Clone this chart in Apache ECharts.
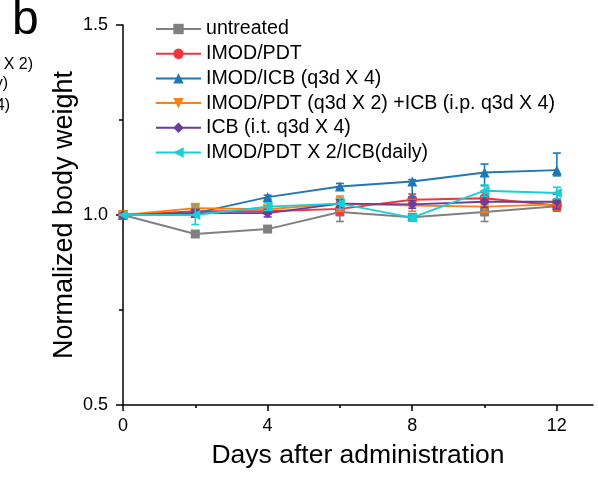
<!DOCTYPE html>
<html><head><meta charset="utf-8">
<script src="https://cdn.jsdelivr.net/npm/echarts@6/dist/echarts.min.js"></script>
<style>html,body{margin:0;padding:0;background:#fff}#c{width:598px;height:477px}</style>
</head><body><div id="c"></div>
<script>
const days = [0, 2, 4, 6, 8, 10, 12];
const xTicks = [0, 4, 8, 12];
const xMinorTicks = [2, 6, 10];
const seriesNames = ['untreated', 'IMOD/PDT', 'IMOD/ICB (q3d X 4)', 'IMOD/PDT (q3d X 2) +ICB (i.p. q3d X 4)', 'ICB (i.t. q3d X 4)', 'IMOD/PDT X 2/ICB(daily)'];
const untreated = [1.000, 0.950, 0.963, 1.008, 0.994, 1.008, 1.023];
const untreatedErr = [0, 0.006, 0.006, 0.025, 0.008, 0.025, 0.010];
const imodPdt = [1.000, 1.010, 1.010, 1.016, 1.040, 1.044, 1.025];
const imodPdtErr = [0, 0.012, 0.008, 0.015, 0.015, 0.015, 0.015];
const imodIcb = [1.000, 1.005, 1.047, 1.075, 1.088, 1.112, 1.118];
const imodIcbErrUp = [0, 0.005, 0.005, 0.008, 0.005, 0.022, 0.045];
const imodIcbErrDown = [0, 0.005, 0.005, 0.008, 0.040, 0.035, 0.015];
const combo = [1.000, 1.018, 1.015, 1.030, 1.025, 1.022, 1.028];
const comboErr = [0, 0.012, 0.010, 0.020, 0.015, 0.015, 0.015];
const icb = [1.000, 1.005, 1.005, 1.030, 1.028, 1.035, 1.035];
const icbErr = [0, 0.010, 0.010, 0.010, 0.010, 0.015, 0.020];
const daily = [1.000, 1.000, 1.022, 1.030, 0.993, 1.064, 1.058];
const dailyErr = [0, 0.025, 0.010, 0.015, 0.008, 0.015, 0.015];

const colors = ['#808080', '#f5333b', '#1f77b4', '#ff7f0e', '#6a3d9a', '#17cfd4'];
const symbols = ['rect', 'circle', 'triangle', 'path://M0,0 L10,0 L5,10 Z', 'diamond', 'path://M0,5 L10,0 L10,10 Z'];
const vals = [untreated, imodPdt, imodIcb, combo, icb, daily];
const errUp = [untreatedErr, imodPdtErr, imodIcbErrUp, comboErr, icbErr, dailyErr];
const errDown = [untreatedErr, imodPdtErr, imodIcbErrDown, comboErr, icbErr, dailyErr];

const FONT = 'Liberation Sans, Arial, sans-serif';
const series = [];
vals.forEach((v, k) => {
  series.push({
    type: 'custom', name: seriesNames[k] + ' err', xAxisIndex: 0, yAxisIndex: 0, z: 2 + k * 2, silent: true,
    data: v.map((y, i) => [days[i], y, errUp[k][i], errDown[k][i]]),
    renderItem: (params, api) => {
      const x = api.value(0), y = api.value(1);
      const hi = api.coord([x, y + api.value(2)]);
      const lo = api.coord([x, y - api.value(3)]);
      const hw = 4;
      const st = { stroke: colors[k], lineWidth: 1.6 };
      return { type: 'group', children: [
        { type: 'line', shape: { x1: hi[0], y1: hi[1], x2: lo[0], y2: lo[1] }, style: st },
        { type: 'line', shape: { x1: hi[0] - hw, y1: hi[1], x2: hi[0] + hw, y2: hi[1] }, style: st },
        { type: 'line', shape: { x1: lo[0] - hw, y1: lo[1], x2: lo[0] + hw, y2: lo[1] }, style: st }
      ]};
    }
  });
  series.push({
    type: 'line', name: seriesNames[k], xAxisIndex: 0, yAxisIndex: 0, z: 3 + k * 2,
    data: v.map((y, i) => [days[i], y]),
    symbol: symbols[k], symbolSize: k === 0 ? 9 : 10, showAllSymbol: true,
    itemStyle: { color: colors[k] },
    lineStyle: { color: colors[k], width: 1.9 },
    emphasis: { disabled: true }, animation: false
  });
});

const chart = echarts.init(document.getElementById('c'));
chart.setOption({
  animation: false,
  backgroundColor: '#fff',
  grid: { left: 123, right: 5, top: 25, bottom: 72 },
  legend: {
    data: seriesNames, orient: 'vertical', left: 150, top: 14,
    itemWidth: 45, itemHeight: 13, itemGap: 4.7,
    textStyle: { fontFamily: FONT, fontSize: 19.6, color: '#000', lineHeight: 19.6 }
  },
  xAxis: [{
    type: 'value', min: 0, max: 13, interval: 4, position: 'bottom',
    name: 'Days after administration', nameLocation: 'middle', nameGap: 37, nameMoveOverlap: false,
    nameTextStyle: { fontFamily: FONT, fontSize: 26.5, color: '#000' },
    axisLine: { show: true, lineStyle: { color: '#000', width: 1.5 } },
    axisTick: { show: true, length: 6, customValues: xTicks, lineStyle: { color: '#000', width: 1.5 } },
    axisLabel: { customValues: xTicks, fontFamily: FONT, fontSize: 18, color: '#000', margin: 12 },
    splitLine: { show: false }
  }, {
    type: 'value', min: 0, max: 13, position: 'bottom', offset: 0,
    axisLine: { show: false },
    axisTick: { show: true, length: 3, customValues: xMinorTicks, lineStyle: { color: '#000', width: 1.5 } },
    axisLabel: { show: false },
    splitLine: { show: false }
  }],
  yAxis: {
    type: 'value', min: 0.5, max: 1.5, interval: 0.5,
    name: 'Normalized body weight', nameLocation: 'middle', nameGap: 45, nameMoveOverlap: false,
    nameTextStyle: { fontFamily: FONT, fontSize: 27, color: '#000' },
    axisLine: { show: true, lineStyle: { color: '#000', width: 1.5 } },
    axisTick: { show: true, length: 7, lineStyle: { color: '#000', width: 1.5 } },
    minorTick: { show: true, splitNumber: 2, length: 4, lineStyle: { color: '#000', width: 1.5 } },
    axisLabel: { fontFamily: FONT, fontSize: 18, color: '#000', margin: 15, formatter: v => v.toFixed(1) },
    splitLine: { show: false }
  },
  graphic: [
    { type: 'text', left: 12, top: -3, style: { text: 'b', font: '48px ' + FONT, fill: '#000' } },
    { type: 'text', right: 565, top: 57, style: { text: '(q3d X 2)', font: '16px ' + FONT, fill: '#000' } },
    { type: 'text', right: 590, top: 76, style: { text: 'y)', font: '16px ' + FONT, fill: '#000' } },
    { type: 'text', right: 588, top: 98, style: { text: 'X 4)', font: '16px ' + FONT, fill: '#000' } }
  ],
  series: series
});
</script></body></html>
